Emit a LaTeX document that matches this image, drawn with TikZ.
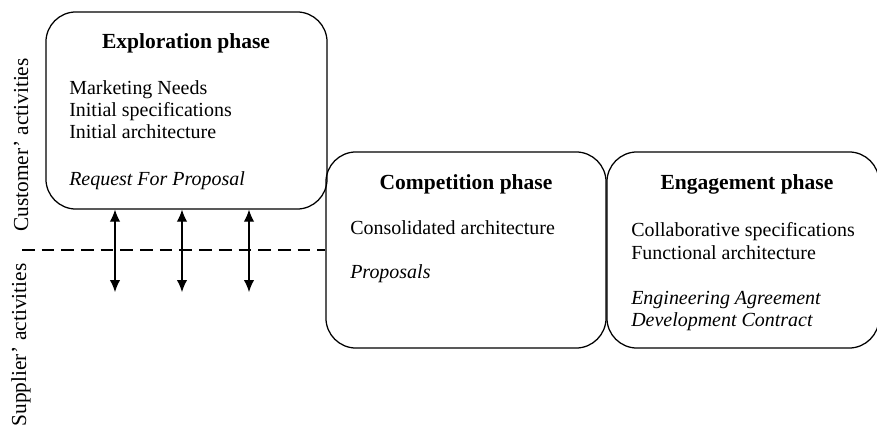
\documentclass[tikz,border=0pt]{standalone}
\usepackage{fontspec}
\setmainfont{Liberation Serif}
\usetikzlibrary{arrows.meta,positioning}

\tikzset{
  phasebox/.style={draw,line width=0.9pt,rounded corners=0.75cm,inner sep=0pt},
  phasetitle/.style={anchor=base,inner sep=0pt,font=\bfseries\fontsize{15.3}{18}\selectfont},
  phaseitem/.style={anchor=base west,inner sep=0pt,font=\fontsize{14.2}{16}\selectfont},
  sidelabel/.style={rotate=90,inner sep=0pt,font=\fontsize{15.2}{18}\selectfont},
  exchange/.style={{Latex[length=3mm,width=2.6mm]}-{Latex[length=3mm,width=2.6mm]},line width=0.8pt},
}

\begin{document}
\begin{tikzpicture}[x=0.025cm,y=-0.025cm]
  \useasboundingbox (0,0) rectangle (877,428);

  \node[phasebox,minimum width=7.025cm,minimum height=4.925cm] (expl) at (186.5,110.5) {};
  \node[phasebox,minimum width=7cm,minimum height=4.9cm] (comp) at (466,250) {};
  \node[phasebox,minimum width=6.8cm,minimum height=4.9cm] (enga) at (743,250) {};

  \node[phasetitle] (explt) at (186,48) {Exploration phase};
  \node[phaseitem] (needs) at (69,94) {Marketing Needs};
  \node[phaseitem] (ispec) at (69,116) {Initial specifications};
  \node[phaseitem] (iarch) at (69,138) {Initial architecture};
  \node[phaseitem,font=\itshape\fontsize{14.2}{16}\selectfont] (rfp) at (69,185) {Request For Proposal};

  \node[phasetitle] (compt) at (466,189) {Competition phase};
  \node[phaseitem] (carch) at (350,234) {Consolidated architecture};
  \node[phaseitem,font=\itshape\fontsize{14.2}{16}\selectfont] (props) at (350,278) {Proposals};

  \node[phasetitle] (engat) at (747,189) {Engagement phase};
  \node[phaseitem] (cspec) at (631,236) {Collaborative specifications};
  \node[phaseitem] (farch) at (631,259) {Functional architecture};
  \node[phaseitem,font=\itshape\fontsize{14.2}{16}\selectfont] (agree) at (631,304) {Engineering Agreement};
  \node[phaseitem,font=\itshape\fontsize{14.2}{16}\selectfont] (contr) at (631,326) {Development Contract};

  \node[sidelabel] (cust) at (21,145) {Customer’ activities};
  \node[sidelabel] (supp) at (21,345) {Supplier’ activities};

  \coordinate (lstart) at (22,250);
  \draw[line width=2pt,dash pattern=on 9pt off 5pt] (lstart) -- (lstart -| comp.west);

  \foreach \x/\n in {115/a,182/b,249/c}{
    \coordinate (end\n) at (\x,292);
    \draw[exchange] (end\n |- expl.south) -- (end\n);
  }
\end{tikzpicture}
\end{document}
